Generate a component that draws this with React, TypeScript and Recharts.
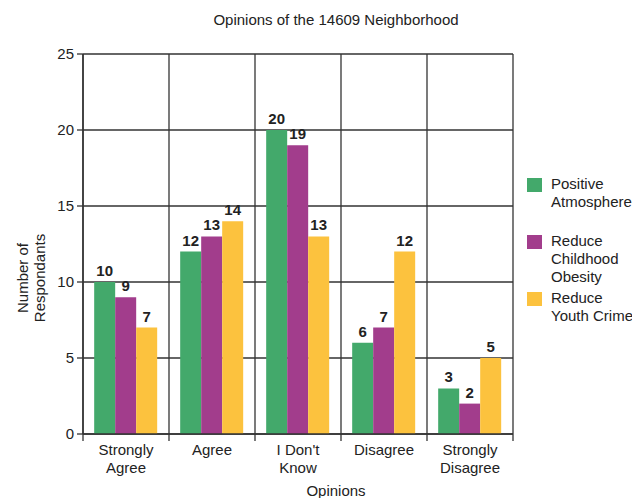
import React from "react";
import {
  BarChart,
  Bar,
  XAxis,
  YAxis,
  CartesianGrid,
  LabelList,
} from "recharts";

const categories = ["Strongly\nAgree", "Agree", "I Don't\nKnow", "Disagree", "Strongly\nDisagree"];
const positiveAtmosphere = [10, 12, 20, 6, 3];
const reduceObesity = [9, 13, 19, 7, 2];
const reduceCrime = [7, 14, 13, 12, 5];
const yTicks = [0, 5, 10, 15, 20, 25];
const boundaryTicks = [0, 1, 2, 3, 4, 5];

const seriesInfo = [
  { key: "atmosphere", name: "Positive\nAtmosphere", color: "#43a96b" },
  { key: "obesity", name: "Reduce\nChildhood\nObesity", color: "#a23d8c" },
  { key: "crime", name: "Reduce\nYouth Crime", color: "#fcc23e" },
];

const data = categories.map((c, i) => ({
  cat: c,
  pos: i + 0.5,
  atmosphere: positiveAtmosphere[i],
  obesity: reduceObesity[i],
  crime: reduceCrime[i],
}));

const FONT = "'Liberation Sans', Arial, sans-serif";
const FS = 15;

function CatTick(props: any) {
  const { x, y, payload } = props;
  const lines = String(payload.value).split("\n");
  return (
    <text x={x} y={y} textAnchor="middle" fill="#222" fontSize={FS} fontFamily={FONT}>
      {lines.map((l, i) => (
        <tspan key={i} x={x} dy={i === 0 ? 5 : 18}>
          {l}
        </tspan>
      ))}
    </text>
  );
}

function LegendBox() {
  return (
    <div
      style={{
        position: "absolute",
        left: 527,
        top: 178,
        fontFamily: FONT,
        fontSize: FS,
        color: "#222",
      }}
    >
      {seriesInfo.map((s) => (
        <div key={s.key} style={{ position: "relative", height: 57 }}>
          <div
            style={{
              position: "absolute",
              left: 0,
              top: 0,
              width: 15,
              height: 14,
              background: s.color,
            }}
          />
          <div style={{ position: "absolute", left: 24, top: -3, lineHeight: "18px", whiteSpace: "pre" }}>
            {s.name}
          </div>
        </div>
      ))}
    </div>
  );
}

export default function App() {
  return (
    <div
      style={{
        position: "absolute",
        left: 0,
        top: 0,
        width: 632,
        height: 498,
        background: "#fff",
        overflow: "hidden",
        fontFamily: FONT,
      }}
    >
      <div
        style={{
          position: "absolute",
          left: 0,
          width: 672,
          top: 11,
          textAlign: "center",
          fontSize: FS,
          color: "#222",
        }}
      >
        Opinions of the 14609 Neighborhood
      </div>
      <div
        style={{
          position: "absolute",
          left: 0,
          width: 672,
          top: 482,
          textAlign: "center",
          fontSize: FS,
          color: "#222",
        }}
      >
        Opinions
      </div>
      <div
        style={{
          position: "absolute",
          left: 31,
          top: 278,
          transform: "translate(-50%, -50%) rotate(-90deg)",
          textAlign: "center",
          fontSize: FS,
          lineHeight: "17px",
          color: "#222",
          whiteSpace: "pre",
        }}
      >
        {"Number of\nRespondants"}
      </div>
      <BarChart
        width={632}
        height={498}
        data={data}
        margin={{ top: 54, right: 119, left: 0, bottom: 16 }}
        barCategoryGap="13%"
        barGap={0}
      >
        <CartesianGrid xAxisId="b" stroke="#333" strokeWidth={1.3} />
        <XAxis
          xAxisId="b"
          dataKey="pos"
          type="number"
          domain={[0, 5]}
          allowDataOverflow
          ticks={boundaryTicks}
          tickCount={6}
          interval={0}
          tick={() => <g />}
          tickSize={7}
          height={8}
          axisLine={{ stroke: "#333", strokeWidth: 1.5 }}
          tickLine={{ stroke: "#333", strokeWidth: 1.3 }}
        />
        <XAxis
          xAxisId="cat"
          dataKey="cat"
          tick={<CatTick />}
          tickLine={false}
          axisLine={false}
          height={40}
          interval={0}
        />
        <YAxis
          domain={[0, 25]}
          ticks={yTicks}
          interval={0}
          width={83}
          tickSize={6}
          tickMargin={3}
          axisLine={{ stroke: "#333", strokeWidth: 1.5 }}
          tickLine={{ stroke: "#333", strokeWidth: 1.3 }}
          tick={{ fill: "#222", fontSize: FS, fontFamily: FONT }}
        />
        {seriesInfo.map((s) => (
          <Bar
            key={s.key}
            xAxisId="cat"
            dataKey={s.key}
            name={s.name}
            fill={s.color}
            isAnimationActive={false}
          >
            <LabelList
              dataKey={s.key}
              position="top"
              offset={6}
              fill="#222"
              fontSize={FS}
              fontWeight="bold"
              fontFamily={FONT}
            />
          </Bar>
        ))}
      </BarChart>
      <LegendBox />
    </div>
  );
}
